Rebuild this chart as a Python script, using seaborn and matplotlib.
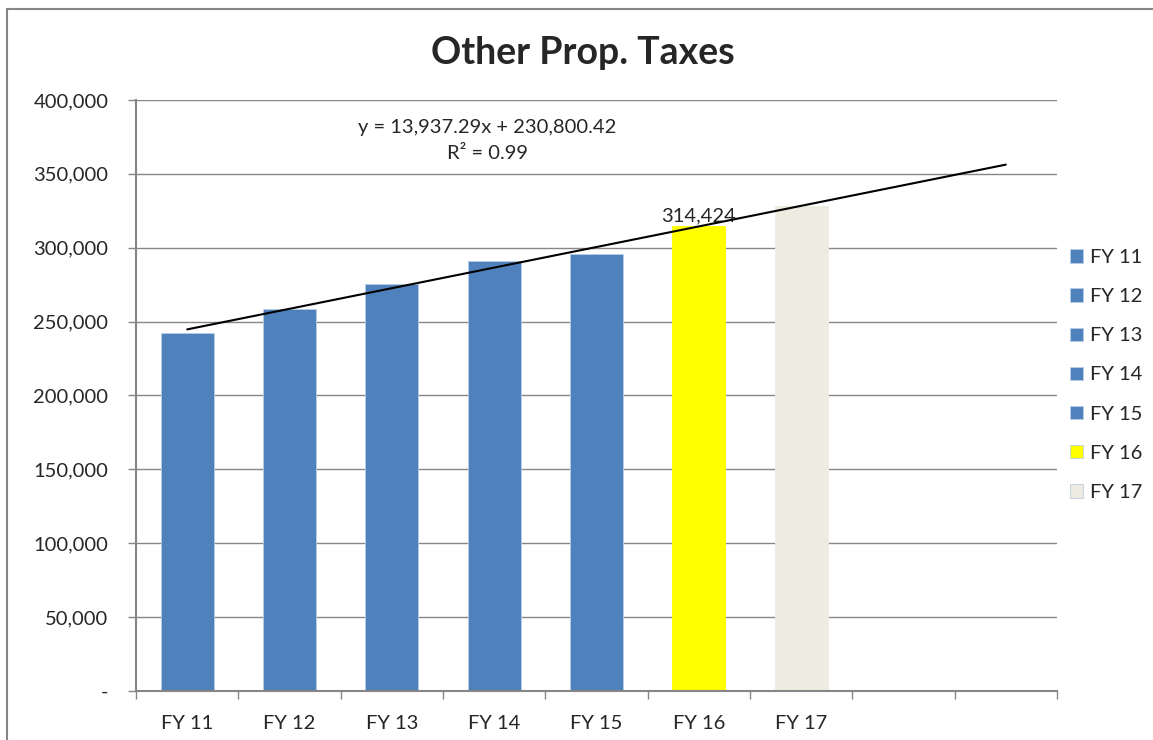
import numpy as np
import pandas as pd
import matplotlib
matplotlib.use('Agg')
import matplotlib.pyplot as plt
from matplotlib.lines import Line2D
from matplotlib.ticker import FuncFormatter
import seaborn as sns

# Dados do gráfico
categorias = ['FY 11', 'FY 12', 'FY 13', 'FY 14', 'FY 15', 'FY 16', 'FY 17']
valores = [242300, 258800, 275500, 291000, 295800, 314424, 328300]
cores = ['#4F81BD', '#4F81BD', '#4F81BD', '#4F81BD', '#4F81BD', '#FFFF00', '#EEECE1']
n_slots = 9  # dois espaços vazios no fim do eixo
inclinacao = 13937.29
intercepto = 230800.42
r2 = 0.99
rotulo_fy16 = '314,424'

df = pd.DataFrame({'Ano': categorias, 'Valor': valores})

sns.set_style('white')
plt.rcParams['font.family'] = ['Lato', 'DejaVu Sans']

fig = plt.figure(figsize=(11.53, 7.40), dpi=100)
ax = fig.add_axes([0.118, 0.0662, 0.7987, 0.7987])

sns.barplot(data=df, x='Ano', y='Valor', hue='Ano', palette=cores, width=0.52,
            dodge=False, legend=True, ax=ax, edgecolor='#B9CDE5', linewidth=0.6,
            saturation=1)
# sem contorno azul nas barras amarela e bege
for p in ax.patches[5:7]:
    p.set_edgecolor(p.get_facecolor())

# Linha de tendência (equação do Excel)
xs = np.arange(n_slots)
ys = inclinacao * (xs + 1) + intercepto
ax.plot(xs, ys, color='black', lw=1.5, zorder=5)

ax.text(2.93, 381700, f'y = {inclinacao:,.2f}x + {intercepto:,.2f}', ha='center', va='center', fontsize=14.5)
ax.text(2.93, 364000, f'R² = {r2:.2f}', ha='center', va='center', fontsize=14.5)
ax.text(5, valores[5] + 1500, rotulo_fy16, ha='center', va='bottom', fontsize=14.5)

# Eixos
ax.set_xlim(-0.5, n_slots - 0.5)
ax.set_ylim(0, 400000)
ax.set_yticks(np.arange(0, 400001, 50000))
ax.yaxis.set_major_formatter(FuncFormatter(lambda v, p: '-' if v == 0 else f'{v:,.0f}'))
ax.set_xticks(np.arange(-0.5, n_slots, 1))
ax.set_xticklabels([''] * (n_slots + 1))
ax.set_xticks(np.arange(len(categorias)), minor=True)
ax.set_xticklabels(categorias, minor=True)
ax.tick_params(axis='x', which='minor', length=0, pad=17, labelsize=14.5)
ax.tick_params(axis='x', which='major', length=6, width=1, color='#868686', direction='out', bottom=True)
ax.tick_params(axis='y', length=6, width=1, color='#868686', direction='out', left=True, labelsize=14.5, pad=14)
ax.set_xlabel('')
ax.set_ylabel('')

ax.grid(axis='y', color='#868686', lw=1)
ax.set_axisbelow(True)
for s in ['top', 'right']:
    ax.spines[s].set_visible(False)
for s in ['left', 'bottom']:
    ax.spines[s].set_color('#868686')
    ax.spines[s].set_linewidth(1.5)

fig.text(583 / 1153, 1 - 53 / 740, 'Other Prop. Taxes', ha='center', va='center',
         fontsize=27, fontweight='bold')

leg = ax.legend(loc='upper left', bbox_to_anchor=(0.912, 0.688), bbox_transform=fig.transFigure,
                frameon=False, fontsize=14.5, handlelength=0.65, handleheight=0.65,
                handletextpad=0.35, labelspacing=1.1)

# Moldura do gráfico
fig.add_artist(Line2D([7 / 1153, 7 / 1153], [0, 1 - 9 / 740], color='#868686', lw=1.5))
fig.add_artist(Line2D([7 / 1153, 1], [1 - 9 / 740, 1 - 9 / 740], color='#868686', lw=1.5))

plt.savefig('out.png', dpi=100)
